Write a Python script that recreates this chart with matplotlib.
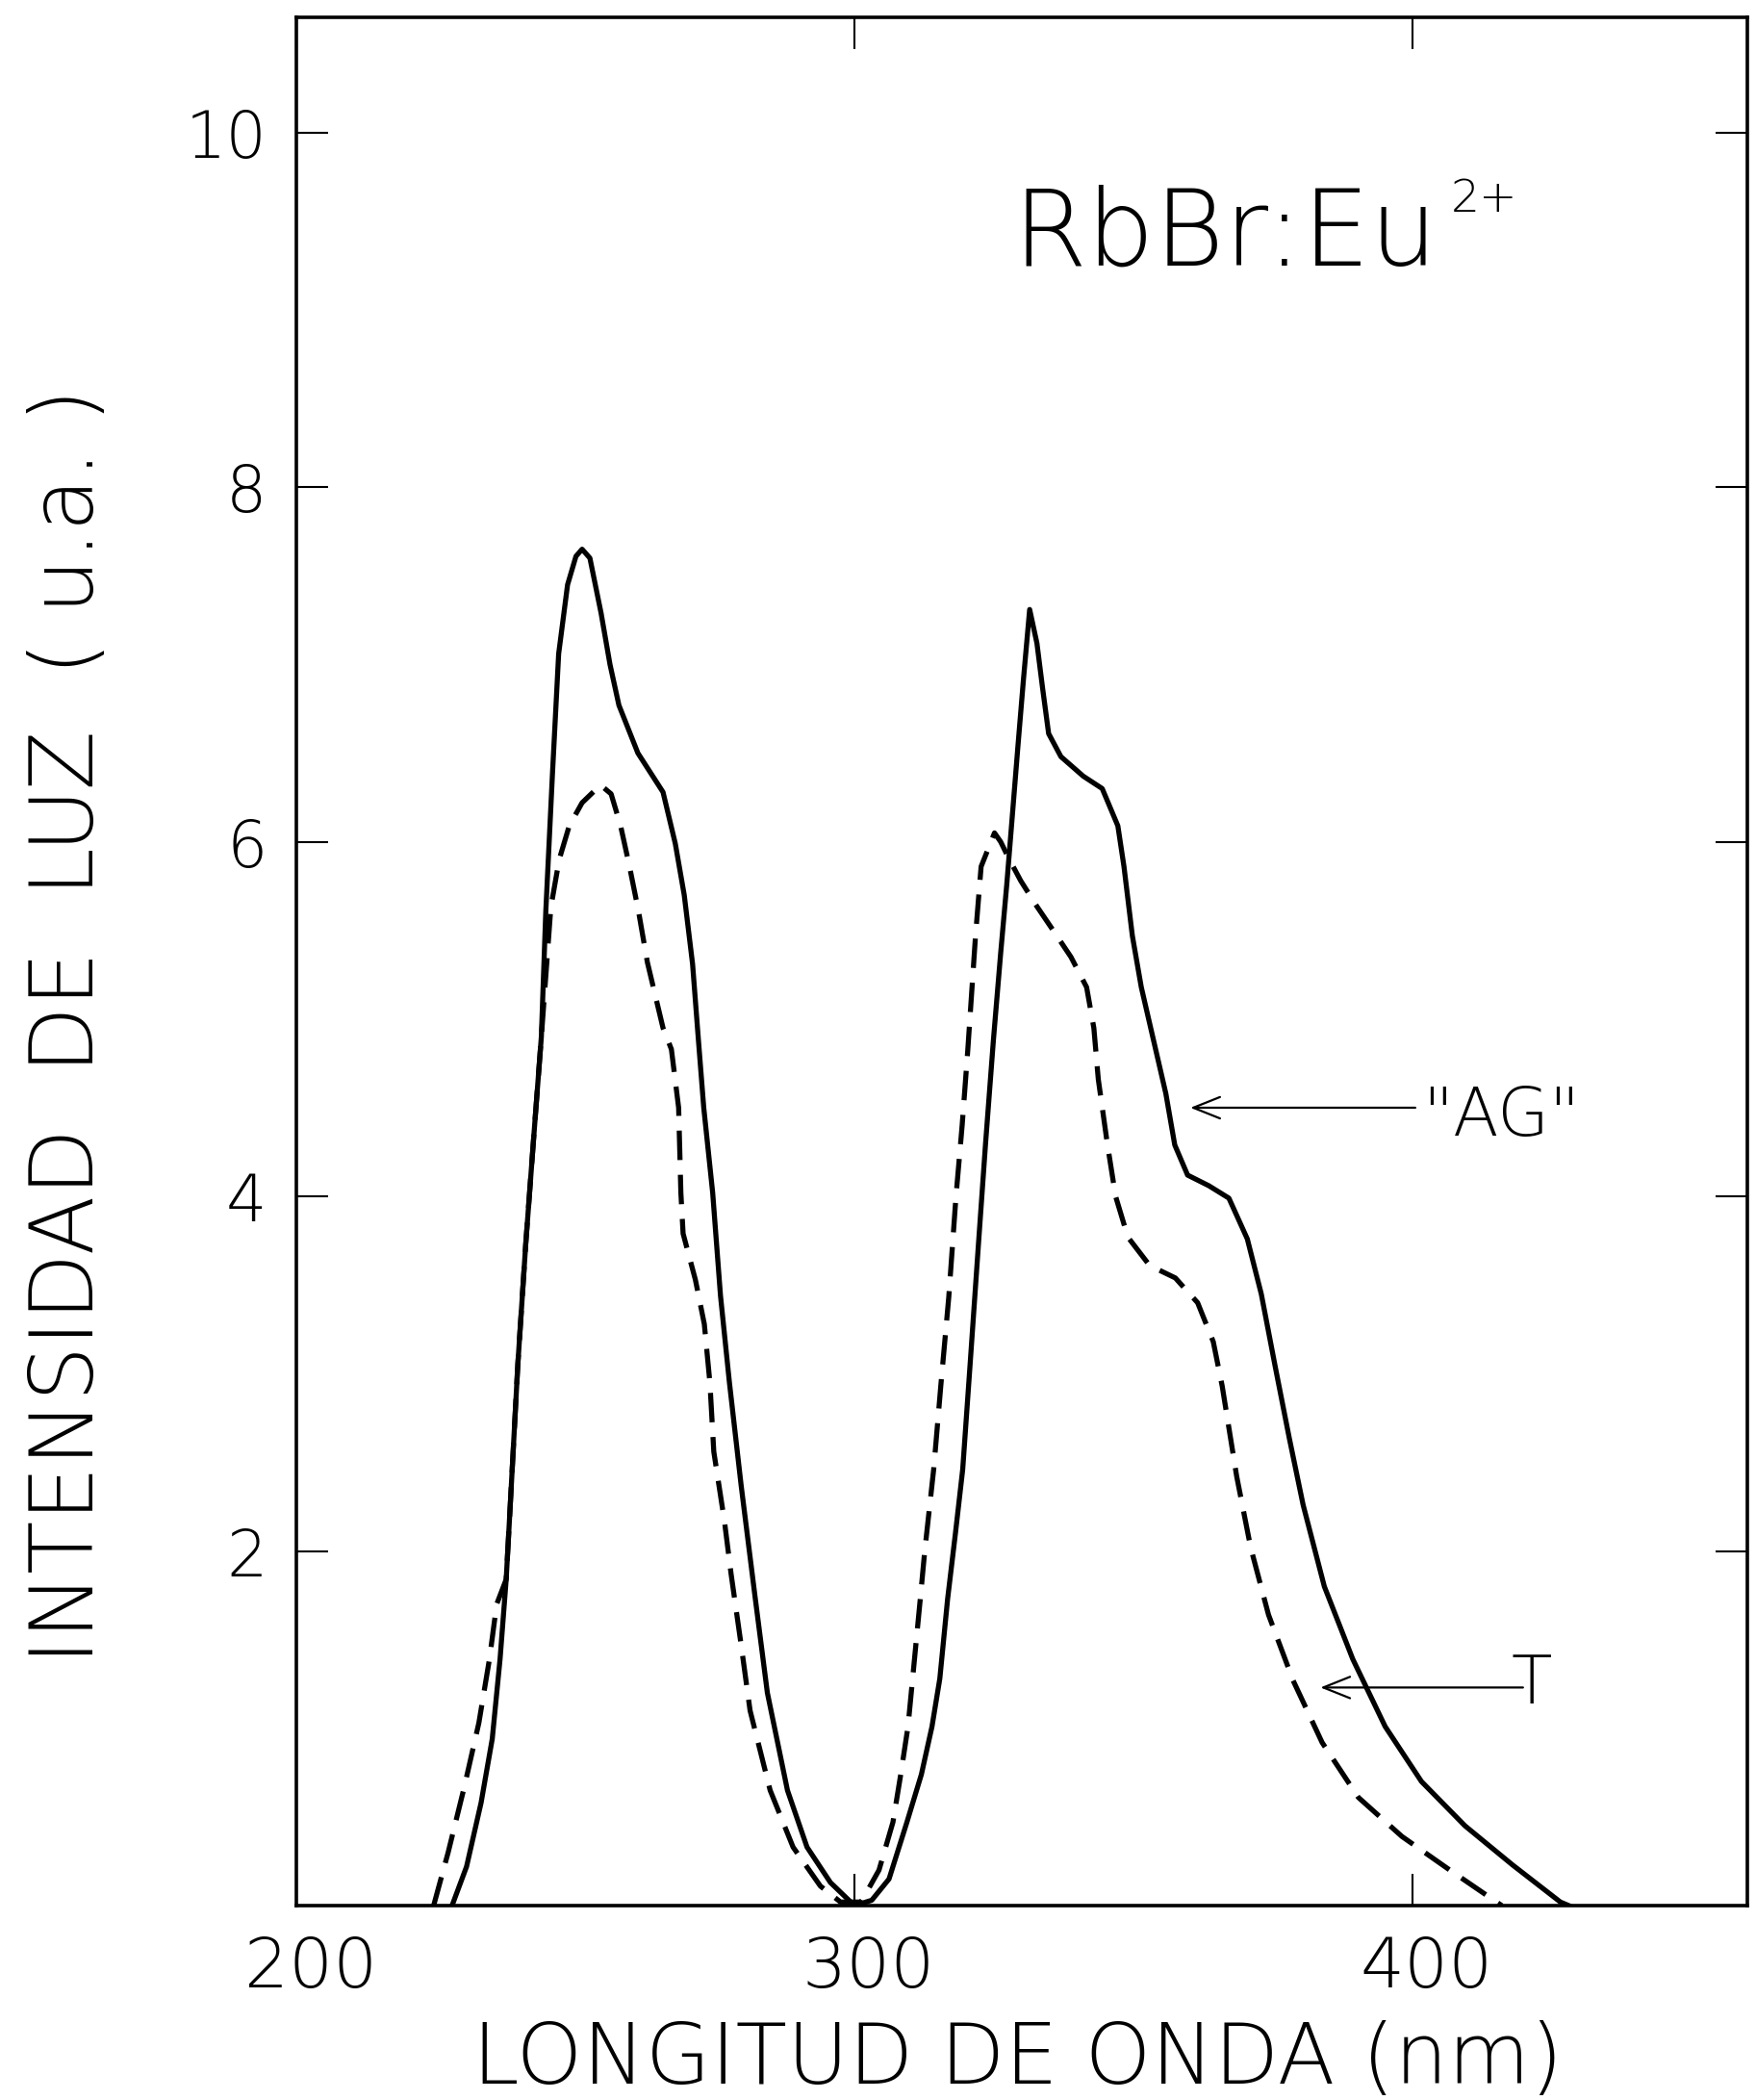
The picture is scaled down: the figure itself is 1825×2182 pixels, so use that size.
import matplotlib
matplotlib.use("Agg")
import matplotlib.pyplot as plt
from matplotlib.transforms import ScaledTranslation

# curve "AG" (solid)
wl_ag = [227.9, 230.5, 233.1, 235.1, 236.5, 237.6, 238.4, 239.7, 241.1, 242.5,
         243.9, 244.7, 245.9, 247.0, 248.6, 250.1, 251.2, 252.6, 254.6, 256.2,
         257.8, 261.2, 265.7, 267.9, 269.5, 271.0, 272.0, 273.0, 274.6, 276.0,
         277.6, 279.7, 282.2, 284.4, 288.0, 291.5, 295.7, 300.0, 303.1, 306.2,
         309.4, 312.0, 313.9, 315.3, 316.7, 318.1, 319.4, 320.7, 322.2, 323.5,
         324.9, 326.2, 327.3, 328.3, 329.3, 330.3, 331.4, 332.7, 333.7, 334.8,
         337.0, 341.0, 344.4, 347.2, 348.3, 349.8, 351.4, 353.6, 355.8, 357.4,
         359.7, 363.5, 367.1, 370.4, 372.9, 375.4, 377.9, 380.4, 384.2, 389.3,
         395.1, 401.6, 409.4, 417.9, 426.5, 428.0]
int_ag = [0.0, 0.22, 0.58, 0.94, 1.39, 1.84, 2.30, 3.06, 3.73, 4.32,
          4.90, 5.61, 6.39, 7.06, 7.45, 7.61, 7.65, 7.60, 7.29, 7.00,
          6.77, 6.50, 6.28, 5.99, 5.70, 5.31, 4.90, 4.50, 4.02, 3.44,
          2.95, 2.37, 1.74, 1.20, 0.65, 0.33, 0.13, 0.0, 0.03, 0.15,
          0.47, 0.74, 1.01, 1.28, 1.73, 2.10, 2.46, 3.04, 3.72, 4.30,
          4.88, 5.37, 5.76, 6.15, 6.54, 6.92, 7.31, 7.12, 6.87, 6.61,
          6.48, 6.37, 6.30, 6.09, 5.86, 5.47, 5.18, 4.88, 4.58, 4.29,
          4.12, 4.06, 3.99, 3.76, 3.45, 3.04, 2.64, 2.26, 1.80, 1.39,
          1.01, 0.70, 0.45, 0.23, 0.02, 0.0]

# curve "T" (dashed)
wl_t = [224.6, 227.2, 230.1, 232.7, 234.6, 235.9, 237.6, 238.4, 239.7, 241.1,
        242.5, 243.9, 245.6, 247.1, 248.9, 251.2, 254.5, 256.4, 258.1, 259.7,
        261.3, 262.9, 265.7, 267.2, 268.5, 268.9, 269.3, 271.5, 273.1, 274.1,
        274.8, 276.7, 277.9, 279.7, 281.3, 284.9, 289.0, 293.9, 297.5, 301.2,
        304.4, 306.9, 308.3, 309.6, 310.7, 311.8, 312.6, 314.2, 315.5, 316.9,
        318.2, 319.3, 320.3, 321.7, 322.7, 325.1, 326.2, 327.6, 329.8, 332.6,
        335.4, 338.8, 341.6, 342.9, 343.7, 345.3, 346.8, 349.0, 352.9, 357.5,
        361.5, 364.3, 365.9, 368.5, 371.0, 374.2, 378.6, 383.8, 390.3, 398.1,
        406.7, 414.6, 416.0]
int_t = [0.0, 0.30, 0.67, 1.03, 1.39, 1.70, 1.84, 2.30, 3.06, 3.73,
         4.32, 4.90, 5.63, 5.90, 6.09, 6.22, 6.32, 6.27, 6.09, 5.86,
         5.61, 5.32, 4.95, 4.83, 4.50, 4.02, 3.79, 3.53, 3.28, 2.95,
         2.56, 2.17, 1.87, 1.47, 1.10, 0.65, 0.33, 0.11, 0.02, 0.02,
         0.20, 0.47, 0.74, 1.01, 1.37, 1.73, 2.00, 2.46, 2.94, 3.43,
         4.00, 4.40, 4.82, 5.47, 5.86, 6.05, 6.00, 5.91, 5.78, 5.64,
         5.51, 5.35, 5.18, 4.95, 4.66, 4.30, 4.00, 3.77, 3.61, 3.54,
         3.40, 3.18, 2.93, 2.42, 2.02, 1.64, 1.27, 0.92, 0.61, 0.39,
         0.20, 0.03, 0.0]

x_ticks = [200, 300, 400]
x_tick_labels = ["200", "300", "400"]
y_ticks = [2, 4, 6, 8, 10]
y_tick_labels = ["2", "4", "6", "8", "10"]

plt.rcParams.update({
    "font.family": "DejaVu Sans",
    "font.weight": "light",
    "axes.labelweight": "light",
})

fig = plt.figure(figsize=(18.25, 21.82), dpi=100)
ax = fig.add_axes([0.16877, 0.09258, 0.82630, 0.89918])

ax.plot(wl_ag, int_ag, color="black", lw=3.8, solid_joinstyle="round")
ax.plot(wl_t, int_t, color="black", lw=3.8, linestyle=(0, (5.8, 2.9)))

ax.set_xlim(200, 460.0)
ax.set_ylim(0, 10.65)

ax.set_xticks(x_ticks)
ax.set_xticklabels(x_tick_labels)
ax.set_yticks(y_ticks)
ax.set_yticklabels(y_tick_labels)
ax.tick_params(direction="in", length=24, width=1.5, top=True, right=True,
               color="black")
ax.tick_params(axis="x", labelsize=52, pad=22)
ax.tick_params(axis="y", labelsize=48, pad=22)
for s in ax.spines.values():
    s.set_linewidth(2.6)

# the scanned x labels sit a little right of the tick marks
shift = ScaledTranslation(0.15, 0, fig.dpi_scale_trans)
for lab in ax.get_xticklabels():
    lab.set_transform(lab.get_transform() + shift)

ax.set_xlabel("LONGITUD DE ONDA (nm)", fontsize=63, ha="center", va="baseline")
ax.xaxis.set_label_coords(0.4973, -0.0943)
ax.set_ylabel("INTENSIDAD  DE  LUZ  ( u.a. )", fontsize=65, ha="center",
              va="baseline", rotation=90)
ax.yaxis.set_label_coords(-0.1399, 0.4658)

main = ax.text(328.3, 9.25, "RbBr:Eu", fontsize=80, ha="left", va="baseline")
ax.annotate("2+", xy=(1, 1), xycoords=main, xytext=(10, 5),
            textcoords="offset points", fontsize=34, ha="left", va="top")

arrow = dict(arrowstyle="->,head_length=0.5,head_width=0.2", lw=1.6,
             color="black", shrinkA=0, shrinkB=0, mutation_scale=40)
ax.annotate("", xy=(360.2, 4.50), xytext=(400.5, 4.50), arrowprops=arrow)
ax.text(401.7, 4.34, '"AG"', fontsize=50, ha="left", va="baseline")
ax.annotate("", xy=(383.5, 1.23), xytext=(419.8, 1.23), arrowprops=arrow)
ax.text(417.6, 1.14, "T", fontsize=50, ha="left", va="baseline")

fig.savefig("out.png", dpi=100, facecolor="white")
